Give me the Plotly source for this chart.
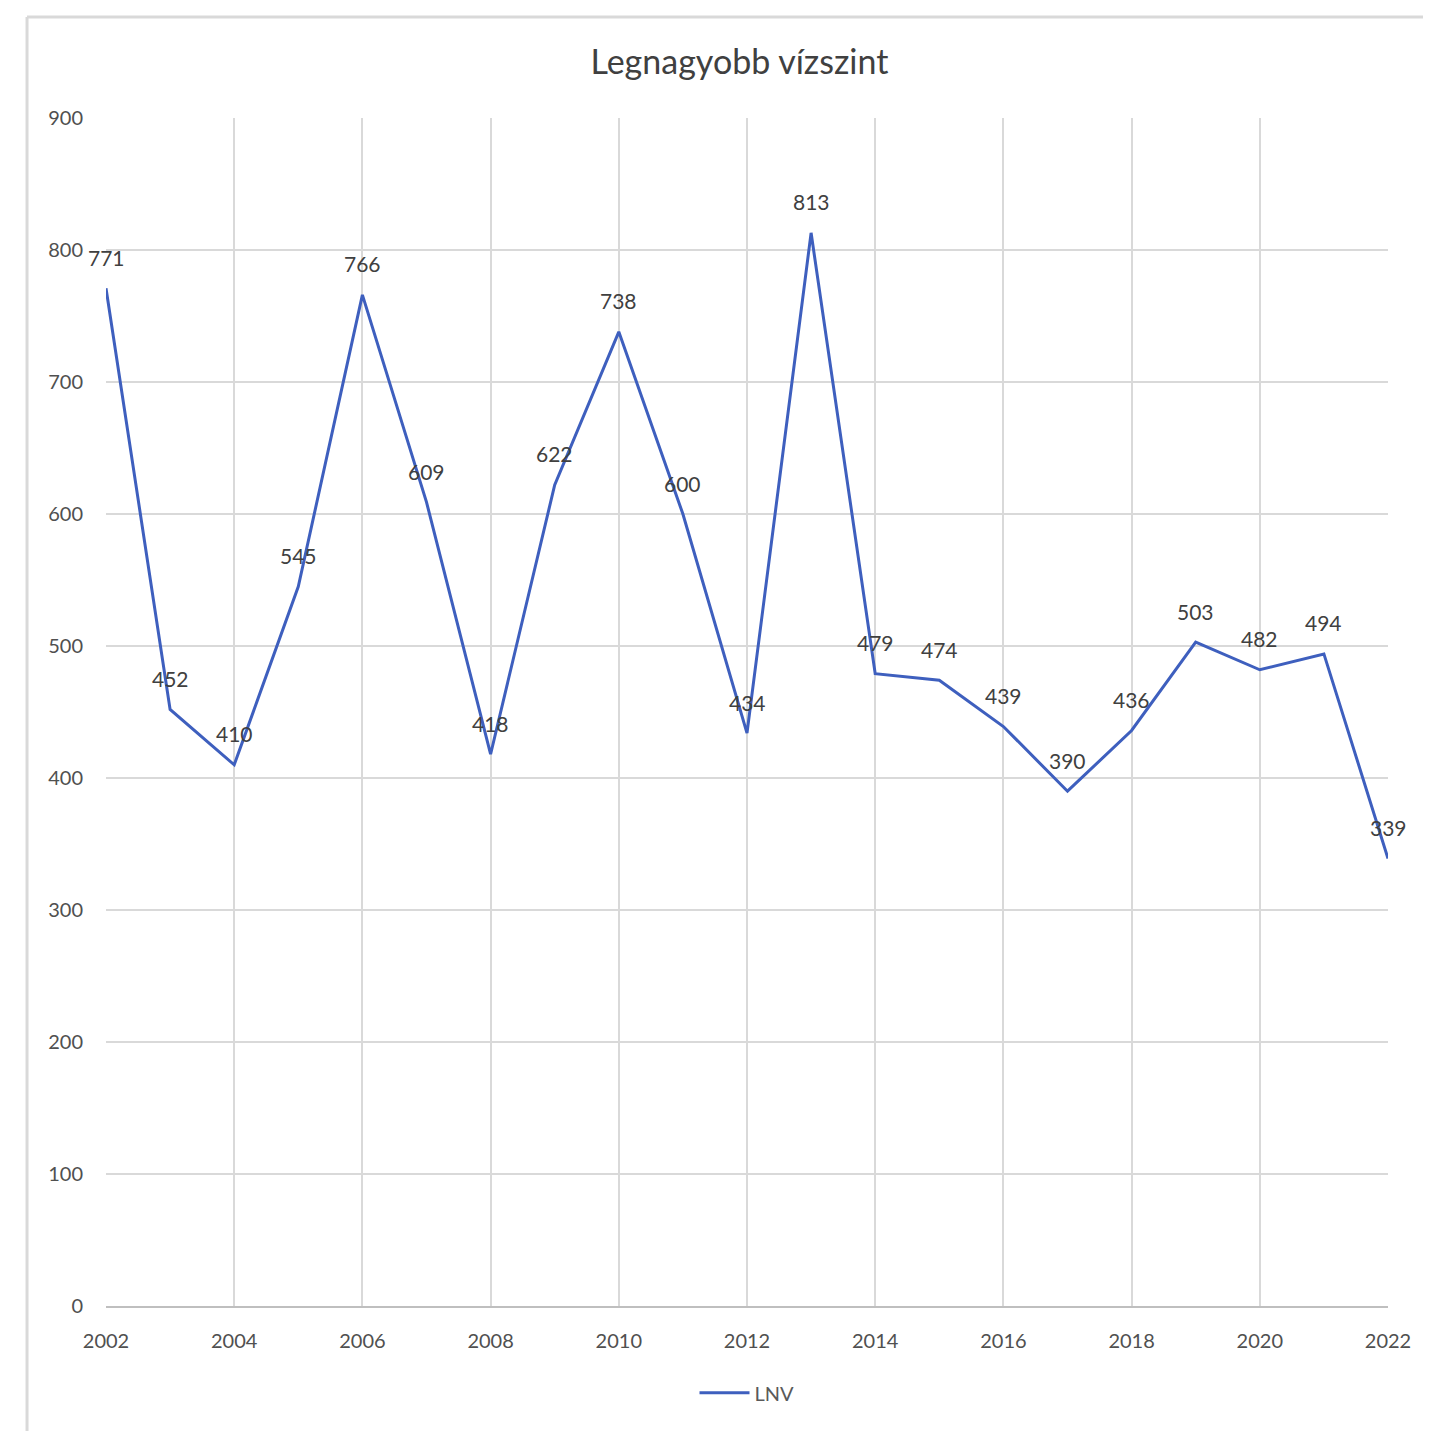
import plotly.graph_objects as go

years = list(range(2002, 2023))
lnv = [771, 452, 410, 545, 766, 609, 418, 622, 738, 600, 434, 813,
       479, 474, 439, 390, 436, 503, 482, 494, 339]
series_name = "LNV"
title_text = "Legnagyobb vízszint"

FONT = "Lato, Open Sans, sans-serif"
fig = go.Figure()
fig.add_trace(go.Scatter(
    x=years, y=lnv, mode="lines", name=series_name,
    line=dict(color="#3E5FBE", width=3),
))
for x, y in zip(years, lnv):
    fig.add_annotation(x=x, y=y, text=str(y), showarrow=False, yshift=31,
                       font=dict(family=FONT, size=21, color="#404040"))

fig.update_layout(
    width=1423, height=1423,
    margin=dict(l=98, r=43, t=110, b=125),
    paper_bgcolor="white", plot_bgcolor="white",
    title=dict(text=title_text, x=0.514, xanchor="center", y=0.962, yanchor="middle",
               font=dict(family=FONT, size=34, color="#404040")),
    showlegend=True,
    legend=dict(orientation="h", x=0.5, xanchor="center", y=-0.073, yanchor="middle",
                itemwidth=50,
                font=dict(family=FONT, size=20, color="#595959")),
    xaxis=dict(range=[2002, 2022], tickmode="linear", tick0=2002, dtick=2,
               showgrid=True, gridcolor="#D9D9D9", gridwidth=2,
               showline=True, linecolor="#BFBFBF", linewidth=2, zeroline=False,
               ticks="", ticklabelstandoff=16,
               tickfont=dict(family=FONT, size=20, color="#505050")),
    yaxis=dict(range=[0, 900], tickmode="linear", dtick=100,
               showgrid=True, gridcolor="#D9D9D9", gridwidth=2,
               zeroline=False, showline=False, ticks="", ticklabelstandoff=22,
               tickfont=dict(family=FONT, size=20, color="#505050")),
    shapes=[
        dict(type="line", xref="paper", yref="paper",
             x0=-0.0616, x1=-0.0616, y0=-0.11, y1=1.085,
             line=dict(color="#D9D9D9", width=3), layer="below"),
        dict(type="line", xref="paper", yref="paper",
             x0=-0.0616, x1=1.04, y0=1.085, y1=1.085,
             line=dict(color="#D9D9D9", width=3), layer="below"),
    ],
)
fig.write_html("out.html")
